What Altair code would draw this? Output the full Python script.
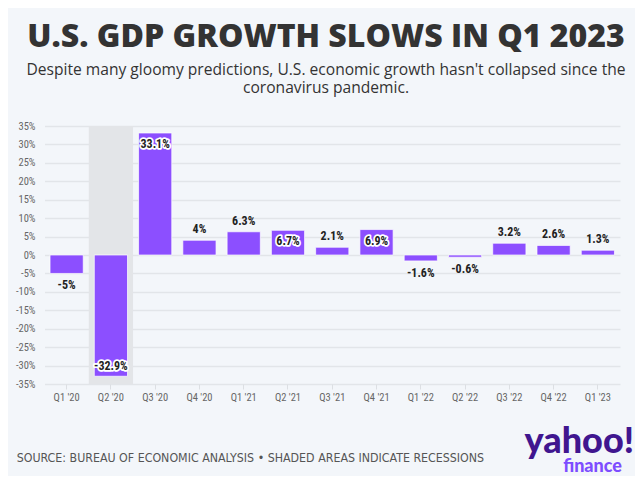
import altair as alt
import pandas as pd

# ---- data -------------------------------------------------------------
quarters = ["Q1 '20", "Q2 '20", "Q3 '20", "Q4 '20", "Q1 '21", "Q2 '21", "Q3 '21",
            "Q4 '21", "Q1 '22", "Q2 '22", "Q3 '22", "Q4 '22", "Q1 '23"]
growth = [-5, -32.9, 33.1, 4, 6.3, 6.7, 2.1, 6.9, -1.6, -0.6, 3.2, 2.6, 1.3]
recession_quarters = ["Q2 '20"]
y_ticks = [-35, -30, -25, -20, -15, -10, -5, 0, 5, 10, 15, 20, 25, 30, 35]

title_text = "U.S. GDP GROWTH SLOWS IN Q1 2023"
subtitle_lines = [
    "Despite many gloomy predictions, U.S. economic growth hasn't collapsed since the",
    "coronavirus pandemic.",
]
source_text = "SOURCE: BUREAU OF ECONOMIC ANALYSIS \u2022 SHADED AREAS INDICATE RECESSIONS"
logo_main = "yahoo!"
logo_sub = "finance"

df = pd.DataFrame({"quarter": quarters, "growth": growth})
rec = pd.DataFrame({"quarter": recession_quarters,
                    "top": [max(y_ticks)] * len(recession_quarters),
                    "bottom": [min(y_ticks)] * len(recession_quarters)})

# ---- styling ----------------------------------------------------------
W, H = 582, 258
BG = "#f3f6fa"
PURPLE = "#8c4fff"
NARROW = "Roboto Condensed, Liberation Sans Narrow, Roboto, sans-serif"
COND = "DejaVu Sans Condensed, sans-serif"

x_scale = alt.Scale(domain=quarters, range=[6.5, W], paddingInner=0.25, paddingOuter=0.125)
y_scale = alt.Scale(domain=[min(y_ticks), max(y_ticks)], nice=False, zero=True)

x_axis = alt.Axis(title=None, labelAngle=0, domain=False, ticks=True, tickSize=5,
                  tickColor="#dcdfe3", tickWidth=1, labelFont=NARROW, labelFontSize=10.5,
                  labelColor="#666666", labelPadding=3, grid=False)
y_axis = alt.Axis(title=None, values=y_ticks, labelExpr="datum.value + '%'", grid=True,
                  gridColor="#e2e5e9", gridWidth=1.5, domain=False, ticks=False, tickSize=0,
                  labelPadding=3, labelFont=NARROW, labelFontSize=10.5, labelColor="#666666")

x_enc = alt.X("quarter:N", scale=x_scale, axis=x_axis)

shade = alt.Chart(rec).mark_bar(color="#e3e5e8", width=alt.RelativeBandSize(4 / 3)).encode(
    x=x_enc,
    y=alt.Y("top:Q", scale=y_scale, axis=y_axis),
    y2="bottom:Q",
)

bars = alt.Chart(df).mark_bar(color=PURPLE, stroke="#ffffff", strokeWidth=1,
                              strokeOpacity=0.7).encode(
    x=x_enc,
    y=alt.Y("growth:Q", scale=y_scale, axis=y_axis),
)

lab_base = alt.Chart(df).transform_calculate(
    label="datum.growth + '%'",
    inside="abs(datum.growth) >= 6.5",
).encode(
    x=x_enc,
    y=alt.Y("growth:Q", scale=y_scale, axis=y_axis),
    text="label:N",
)
txt = dict(font=NARROW, fontSize=12, fontWeight="bold", color="#222222", baseline="middle")

out_pos = lab_base.transform_filter("datum.growth > 0 && !datum.inside").mark_text(dy=-11, **txt)
out_neg = lab_base.transform_filter("datum.growth < 0 && !datum.inside").mark_text(dy=12, **txt)
in_pos_halo = lab_base.transform_filter("datum.growth > 0 && datum.inside").mark_text(
    dy=11, stroke="white", strokeWidth=3.5, strokeJoin="round", **txt)
in_pos = lab_base.transform_filter("datum.growth > 0 && datum.inside").mark_text(dy=11, **txt)
in_neg_halo = lab_base.transform_filter("datum.growth < 0 && datum.inside").mark_text(
    dy=-10, stroke="white", strokeWidth=3.5, strokeJoin="round", **txt)
in_neg = lab_base.transform_filter("datum.growth < 0 && datum.inside").mark_text(dy=-10, **txt)

one = pd.DataFrame({"src": [source_text], "logo": [logo_main], "fin": [logo_sub]})
footer = alt.Chart(one).mark_text(align="left", baseline="alphabetic", font=COND,
                                  fontSize=12.3, color="#555555").encode(
    text="src:N", x=alt.value(-21.3), y=alt.value(335.7))
logo1 = alt.Chart(one).mark_text(align="right", baseline="alphabetic", font="Lato",
                                 fontWeight=900, fontSize=36, color="#40168f").encode(
    text="logo:N", x=alt.value(596), y=alt.value(327))
logo2 = alt.Chart(one).mark_text(align="right", baseline="alphabetic", font="Lato",
                                 fontWeight=900, fontSize=18, color="#7d4dff").encode(
    text="fin:N", x=alt.value(584), y=alt.value(346))

chart = alt.layer(
    shade, bars, out_pos, out_neg, in_pos_halo, in_pos, in_neg_halo, in_neg,
    footer, logo1, logo2,
).properties(
    width=W, height=H,
    title=alt.TitleParams(
        text=title_text, subtitle=subtitle_lines, anchor="middle", dx=-3, offset=23,
        font="Open Sans", fontSize=32, fontWeight=800, color="#333333",
        subtitleFont="Open Sans", subtitleFontSize=15.6, subtitleColor="#333333",
        subtitleLineHeight=18, subtitlePadding=9,
    ),
    autosize=alt.AutoSizeParams(type="none"),
    padding={"left": 30, "top": 118, "right": 15, "bottom": 92},
    background=BG,
).configure_view(strokeWidth=0)

chart.save("out.html", embed_options={"renderer": "svg", "actions": False})
